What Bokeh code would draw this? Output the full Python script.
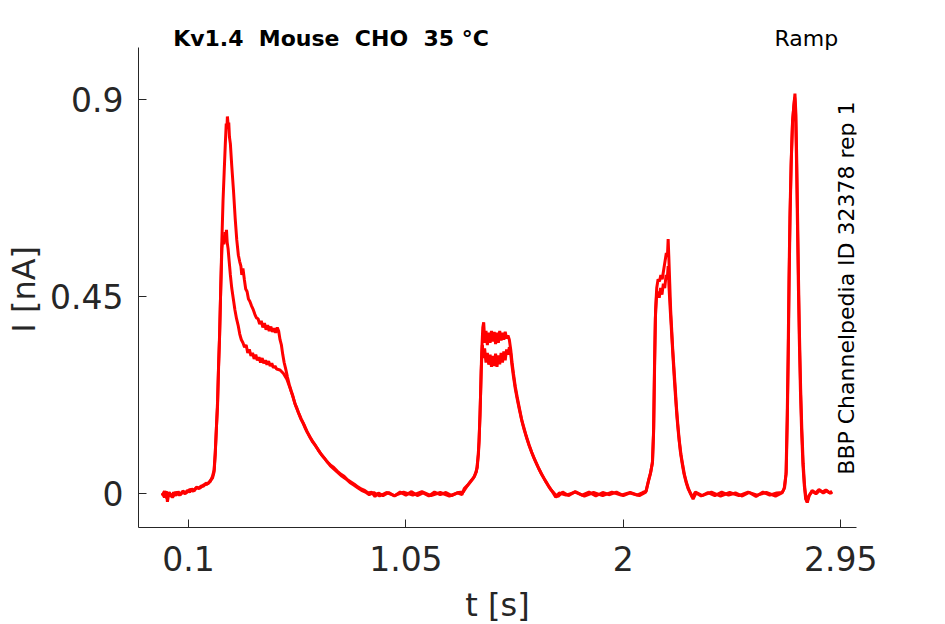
import numpy as np
from bokeh.plotting import figure
from bokeh.embed import file_html
from bokeh.resources import INLINE
from bokeh.models import Label, FixedTicker, Range1d

# trace 1 (upper branch of the first peak)
t_rep1 = [
    -0.015, -0.005, 0.003, 0.008, 0.015, 0.025, 0.035, 0.045, 0.055, 0.065,
    0.075, 0.085, 0.095, 0.105, 0.115, 0.125, 0.135, 0.145, 0.155, 0.165,
    0.175, 0.185, 0.195, 0.205, 0.212, 0.217, 0.222, 0.227, 0.231, 0.236,
    0.241, 0.246, 0.251, 0.256, 0.261, 0.265, 0.268, 0.270, 0.273, 0.276,
    0.279, 0.283, 0.289, 0.297, 0.304, 0.311, 0.318, 0.324, 0.329, 0.333,
    0.338, 0.344, 0.350, 0.356, 0.362, 0.368, 0.375, 0.382, 0.390, 0.397,
    0.404, 0.411, 0.418, 0.425, 0.432, 0.439, 0.446, 0.453, 0.460, 0.467,
    0.474, 0.481, 0.488, 0.494, 0.500, 0.506, 0.512, 0.518, 0.525, 0.532,
    0.540, 0.548, 0.556, 0.565, 0.574, 0.583, 0.592, 0.602, 0.612, 0.622,
    0.632, 0.643, 0.655, 0.667, 0.680, 0.693, 0.706, 0.720, 0.735, 0.750,
    0.765, 0.780, 0.795, 0.810, 0.825, 0.840, 0.855, 0.870, 0.885, 0.900,
    0.915, 0.930, 0.950, 0.975, 1.000, 1.025, 1.050, 1.075, 1.100, 1.125,
    1.150, 1.175, 1.200, 1.225, 1.250, 1.275, 1.295, 1.305, 1.320, 1.335,
    1.350, 1.362, 1.370, 1.376, 1.381, 1.386, 1.390, 1.395, 1.400, 1.406,
    1.412, 1.418, 1.424, 1.430, 1.436, 1.442, 1.448, 1.454, 1.460, 1.466,
    1.472, 1.478, 1.484, 1.490, 1.496, 1.502, 1.508, 1.514, 1.520, 1.528,
    1.536, 1.545, 1.555, 1.565, 1.576, 1.588, 1.600, 1.613, 1.627, 1.641,
    1.656, 1.671, 1.686, 1.700, 1.715, 1.735, 1.760, 1.790, 1.820, 1.850,
    1.880, 1.910, 1.940, 1.970, 2.000, 2.030, 2.060, 2.085, 2.100, 2.110,
    2.120, 2.128, 2.133, 2.137, 2.141, 2.146, 2.152, 2.158, 2.164, 2.170,
    2.176, 2.182, 2.188, 2.193, 2.196, 2.199, 2.203, 2.207, 2.211, 2.216,
    2.221, 2.226, 2.232, 2.238, 2.245, 2.252, 2.260, 2.268, 2.277, 2.286,
    2.295, 2.305, 2.318, 2.340, 2.370, 2.400, 2.430, 2.460, 2.490, 2.520,
    2.550, 2.580, 2.610, 2.640, 2.670, 2.695, 2.705, 2.712, 2.717, 2.721,
    2.725, 2.729, 2.734, 2.740, 2.746, 2.750, 2.754, 2.758, 2.762, 2.766,
    2.770, 2.775, 2.780, 2.786, 2.792, 2.798, 2.804, 2.812, 2.825, 2.840,
    2.855, 2.870, 2.885, 2.900, 2.912,
]
i_rep1 = [
    0.002, -0.008, 0.006, -0.018, 0.004, -0.006, 0.003, -0.004, 0.005, -0.002,
    0.004, 0.000, 0.008, 0.004, 0.011, 0.007, 0.014, 0.012, 0.018, 0.017,
    0.024, 0.023, 0.030, 0.036, 0.050, 0.090, 0.150, 0.200, 0.280, 0.360,
    0.470, 0.580, 0.670, 0.735, 0.800, 0.846, 0.835, 0.862, 0.845, 0.848,
    0.815, 0.800, 0.750, 0.690, 0.630, 0.580, 0.545, 0.530, 0.520, 0.500,
    0.515, 0.490, 0.468, 0.462, 0.445, 0.440, 0.430, 0.422, 0.410, 0.402,
    0.400, 0.388, 0.395, 0.380, 0.390, 0.375, 0.385, 0.372, 0.382, 0.370,
    0.378, 0.368, 0.380, 0.372, 0.352, 0.340, 0.318, 0.300, 0.285, 0.268,
    0.250, 0.236, 0.224, 0.206, 0.195, 0.182, 0.170, 0.160, 0.148, 0.138,
    0.128, 0.118, 0.110, 0.100, 0.090, 0.082, 0.073, 0.066, 0.060, 0.052,
    0.045, 0.040, 0.032, 0.027, 0.022, 0.016, 0.011, 0.008, 0.002, 0.004,
    -0.006, 0.002, -0.004, 0.003, -0.005, 0.004, -0.003, 0.005, -0.004, 0.002,
    -0.005, 0.004, -0.002, 0.003, -0.004, 0.002, -0.002, 0.012, 0.020, 0.030,
    0.040, 0.060, 0.120, 0.220, 0.320, 0.380, 0.392, 0.345, 0.372, 0.340,
    0.368, 0.345, 0.372, 0.348, 0.370, 0.342, 0.368, 0.345, 0.372, 0.350,
    0.368, 0.352, 0.370, 0.355, 0.362, 0.352, 0.330, 0.300, 0.275, 0.245,
    0.222, 0.198, 0.172, 0.152, 0.132, 0.112, 0.095, 0.078, 0.062, 0.047,
    0.033, 0.020, 0.008, 0.000, -0.006, 0.004, -0.004, 0.005, -0.003, 0.004,
    -0.005, 0.003, -0.002, 0.004, -0.004, 0.002, -0.003, 0.003, 0.006, 0.030,
    0.050, 0.075, 0.150, 0.300, 0.420, 0.470, 0.490, 0.485, 0.500, 0.490,
    0.510, 0.530, 0.550, 0.545, 0.582, 0.540, 0.480, 0.420, 0.380, 0.330,
    0.290, 0.250, 0.200, 0.160, 0.120, 0.090, 0.065, 0.042, 0.024, 0.010,
    0.000, -0.012, 0.002, -0.005, 0.003, -0.004, 0.004, -0.003, 0.002, -0.005,
    0.003, -0.006, 0.004, -0.003, 0.002, 0.003, 0.015, 0.050, 0.180, 0.320,
    0.500, 0.640, 0.760, 0.855, 0.890, 0.914, 0.870, 0.760, 0.620, 0.480,
    0.360, 0.240, 0.150, 0.070, 0.020, -0.010, -0.020, -0.005, 0.008, 0.002,
    0.010, 0.004, 0.009, 0.002, 0.006,
]

# trace 2 (lower branch of the first peak)
t_rep2 = [
    -0.015, -0.005, 0.005, 0.015, 0.030, 0.045, 0.060, 0.075, 0.090, 0.105,
    0.120, 0.135, 0.150, 0.165, 0.180, 0.195, 0.205, 0.212, 0.217, 0.222,
    0.227, 0.231, 0.236, 0.241, 0.246, 0.251, 0.255, 0.259, 0.262, 0.266,
    0.269, 0.273, 0.278, 0.283, 0.289, 0.296, 0.303, 0.310, 0.317, 0.324,
    0.331, 0.338, 0.345, 0.352, 0.359, 0.366, 0.373, 0.380, 0.387, 0.394,
    0.401, 0.408, 0.415, 0.422, 0.429, 0.436, 0.443, 0.450, 0.457, 0.464,
    0.471, 0.478, 0.485, 0.500, 0.515, 0.530, 0.545, 0.556, 0.568, 0.580,
    0.592, 0.605, 0.618, 0.631, 0.645, 0.660, 0.675, 0.690, 0.705, 0.720,
    0.737, 0.754, 0.771, 0.788, 0.805, 0.822, 0.839, 0.856, 0.873, 0.890,
    0.910, 0.935, 0.965, 1.000, 1.040, 1.080, 1.120, 1.160, 1.200, 1.240,
    1.280, 1.300, 1.315, 1.330, 1.345, 1.358, 1.367, 1.374, 1.379, 1.384,
    1.389, 1.394, 1.400, 1.406, 1.412, 1.418, 1.424, 1.430, 1.436, 1.442,
    1.448, 1.454, 1.460, 1.466, 1.472, 1.478, 1.484, 1.490, 1.496, 1.502,
    1.508, 1.514, 1.520, 1.528, 1.537, 1.546, 1.556, 1.567, 1.578, 1.590,
    1.603, 1.616, 1.630, 1.645, 1.660, 1.675, 1.690, 1.705, 1.720, 1.750,
    1.790, 1.830, 1.870, 1.910, 1.950, 1.990, 2.030, 2.070, 2.098, 2.108,
    2.118, 2.127, 2.132, 2.136, 2.140, 2.145, 2.151, 2.157, 2.163, 2.169,
    2.175, 2.181, 2.187, 2.192, 2.196, 2.200, 2.204, 2.208, 2.213, 2.218,
    2.223, 2.229, 2.235, 2.242, 2.249, 2.257, 2.265, 2.274, 2.283, 2.292,
    2.302, 2.315, 2.345, 2.385, 2.425, 2.465, 2.505, 2.545, 2.585, 2.625,
    2.665, 2.693, 2.703, 2.711, 2.716, 2.720, 2.724, 2.728, 2.733, 2.739,
    2.745, 2.749, 2.753, 2.757, 2.761, 2.765, 2.769, 2.774, 2.779, 2.785,
    2.791, 2.797, 2.803, 2.811, 2.826, 2.842, 2.858, 2.874, 2.890, 2.905,
    2.913,
]
i_rep2 = [
    -0.004, 0.006, -0.010, 0.002, -0.008, 0.004, -0.003, 0.006, 0.002, 0.010,
    0.006, 0.015, 0.013, 0.020, 0.022, 0.028, 0.040, 0.055, 0.095, 0.150,
    0.210, 0.285, 0.365, 0.470, 0.560, 0.590, 0.570, 0.598, 0.580, 0.603,
    0.575, 0.560, 0.530, 0.500, 0.470, 0.445, 0.420, 0.400, 0.385, 0.365,
    0.352, 0.345, 0.335, 0.340, 0.322, 0.330, 0.315, 0.322, 0.308, 0.318,
    0.305, 0.312, 0.300, 0.310, 0.298, 0.305, 0.295, 0.303, 0.292, 0.298,
    0.288, 0.292, 0.285, 0.283, 0.275, 0.262, 0.240, 0.222, 0.202, 0.186,
    0.172, 0.158, 0.142, 0.130, 0.118, 0.106, 0.094, 0.084, 0.074, 0.064,
    0.056, 0.048, 0.040, 0.034, 0.026, 0.020, 0.014, 0.008, 0.004, -0.002,
    0.003, -0.005, 0.003, -0.004, 0.004, -0.003, 0.005, -0.004, 0.003, -0.005,
    0.003, 0.004, 0.016, 0.026, 0.036, 0.050, 0.090, 0.180, 0.280, 0.340,
    0.310, 0.332, 0.300, 0.322, 0.295, 0.318, 0.290, 0.315, 0.292, 0.320,
    0.290, 0.316, 0.296, 0.322, 0.300, 0.325, 0.305, 0.330, 0.318, 0.335,
    0.320, 0.292, 0.268, 0.240, 0.215, 0.192, 0.168, 0.146, 0.127, 0.108,
    0.090, 0.074, 0.058, 0.043, 0.029, 0.016, 0.005, -0.008, 0.002, -0.003,
    0.004, -0.005, 0.003, -0.004, 0.004, -0.003, 0.003, -0.004, 0.004, 0.025,
    0.045, 0.070, 0.140, 0.280, 0.400, 0.450, 0.462, 0.448, 0.470, 0.455,
    0.480, 0.470, 0.500, 0.490, 0.520, 0.470, 0.430, 0.395, 0.350, 0.305,
    0.262, 0.215, 0.172, 0.132, 0.098, 0.070, 0.046, 0.027, 0.012, 0.002,
    -0.008, 0.004, -0.004, 0.004, -0.005, 0.003, -0.004, 0.004, -0.003, 0.003,
    -0.005, 0.002, 0.012, 0.045, 0.170, 0.310, 0.490, 0.630, 0.750, 0.845,
    0.885, 0.905, 0.865, 0.755, 0.615, 0.475, 0.355, 0.235, 0.145, 0.065,
    0.018, -0.012, -0.018, -0.004, 0.006, 0.000, 0.008, 0.002, 0.007, 0.001,
    0.004,
]

x_ticks = [0.1, 1.05, 2, 2.95]
x_tick_labels = ["0.1", "1.05", "2", "2.95"]
y_ticks = [0, 0.45, 0.9]
y_tick_labels = ["0", "0.45", "0.9"]

# visible axes box (MATLAB style limits)
x_lim = (-0.1184, 3.019)
y_lim = (-0.0763, 1.020)

NBSP = "\u00a0"
title_text = "Kv1.4  Mouse  CHO  35 °C".replace(" ", NBSP)
protocol_text = "Ramp"
source_text = "BBP Channelpedia ID 32378 rep 1"

AX_COLOR = "#262626"
FONT = "DejaVu Sans"


def make_plot():
    # the frame reaches higher than the axes box so the texts on top
    # of the box are not clipped
    p = figure(
        frame_width=718,
        frame_height=517,
        min_border_left=138,
        min_border_right=78,
        min_border_top=10,
        min_border_bottom=89,
        x_range=Range1d(*x_lim),
        y_range=Range1d(-0.0769, 1.104),
        x_axis_label="t [s]",
        # trailing nbsp push the label down to the centre of the axes box
        y_axis_label="I [nA]" + NBSP * 4,
        output_backend="svg",
        toolbar_location=None,
        tools="",
    )
    p.outline_line_color = None
    p.grid.visible = False
    p.background_fill_color = "white"

    for ax in (p.xaxis[0], p.yaxis[0]):
        ax.axis_line_color = AX_COLOR
        ax.major_tick_line_color = AX_COLOR
        ax.major_tick_in = 8
        ax.major_tick_out = 0
        ax.minor_tick_line_color = None
        ax.major_label_text_font = FONT
        ax.major_label_text_font_size = "33px"
        ax.major_label_text_color = AX_COLOR
        ax.axis_label_text_font = FONT
        ax.axis_label_text_font_size = "32px"
        ax.axis_label_text_font_style = "normal"
        ax.axis_label_text_color = AX_COLOR

    p.xaxis.ticker = FixedTicker(ticks=x_ticks)
    p.xaxis.major_label_overrides = dict(zip(x_ticks, x_tick_labels))
    p.xaxis.major_label_standoff = 18
    p.xaxis.axis_label_standoff = 12

    p.yaxis.bounds = y_lim
    p.yaxis.ticker = FixedTicker(ticks=y_ticks)
    p.yaxis.major_label_standoff = 15
    p.yaxis.major_label_overrides = dict(zip(y_ticks, y_tick_labels))
    p.yaxis.axis_label_standoff = 4

    p.line(t_rep1, i_rep1, line_color="#ff0000", line_width=3)
    p.line(t_rep2, i_rep2, line_color="#ff0000", line_width=3)

    p.add_layout(Label(x=0.033, y=1.040, text=title_text,
                       text_font=FONT, text_font_style="bold",
                       text_font_size="22px", text_color="black",
                       text_baseline="alphabetic"))
    p.add_layout(Label(x=2.800, y=1.040, text=protocol_text,
                       text_font=FONT, text_font_size="22px",
                       text_color="black", text_align="center",
                       text_baseline="alphabetic"))
    p.add_layout(Label(x=2.975, y=0.470, text=source_text, angle=np.pi / 2,
                       text_font=FONT, text_font_size="22px",
                       text_color="black", text_align="center",
                       text_baseline="alphabetic"))
    return p


p = make_plot()
open("out.html", "w").write(file_html(p, INLINE))
